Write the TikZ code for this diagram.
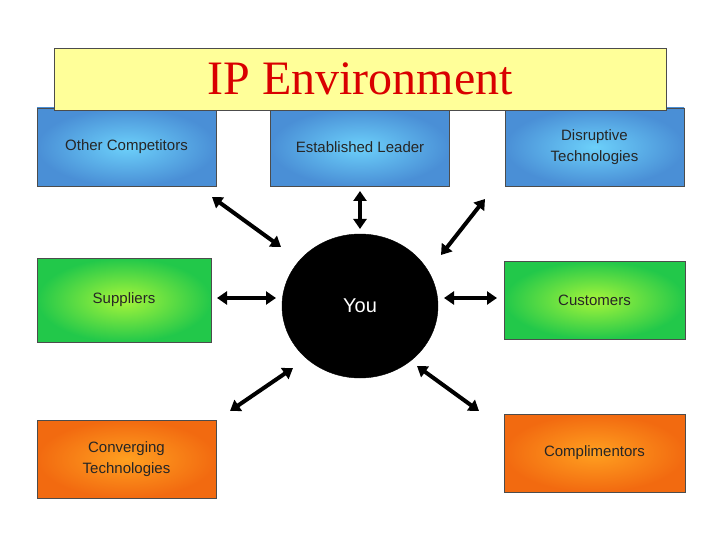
\documentclass[tikz,border=0pt]{standalone}
\usepackage{fontspec}
\setmainfont{Liberation Sans}
\newfontfamily\seriffont{Liberation Serif}
\usetikzlibrary{arrows.meta,shapes.geometric}
\definecolor{bout}{HTML}{4A8FD6}\definecolor{bin}{HTML}{6CD0FA}
\definecolor{gout}{HTML}{22C84A}\definecolor{gin}{HTML}{A6F53A}
\definecolor{oout}{HTML}{F26A10}\definecolor{oin}{HTML}{FFA020}
\definecolor{ttl}{HTML}{FFFF99}
\tikzset{
 box/.style={draw=black!70, line width=0.6pt, minimum width=#1, align=center, font=\fontsize{15}{21}\selectfont, text=black!85, inner sep=0pt},
 bluebox/.style={box=179pt, minimum height=78pt, inner color=bin, outer color=bout},
 greenbox/.style={box=176pt, inner color=gin, outer color=gout},
 orangebox/.style={box=179pt, minimum height=78pt, inner color=oin, outer color=oout},
 dbl/.style={{Triangle[width=13pt,length=10pt]}-{Triangle[width=13pt,length=10pt]}, line width=4pt}
}
\begin{document}
\begin{tikzpicture}[x=1pt,y=-1pt]
\useasboundingbox[fill=white] (0,0) rectangle (720,540);
\node[bluebox] (oc) at (126.5,147) {Other Competitors};
\node[bluebox] (el) at (360,147) {Established Leader};
\node[bluebox] (dt) at (594.5,147) {Disruptive\\Technologies};
\node[greenbox, minimum width=174pt, minimum height=84pt] (su) at (124,300) {Suppliers};
\node[greenbox, minimum width=181pt, minimum height=78pt] (cu) at (594.5,300) {Customers};
\node[orangebox] (ct) at (126.5,459) {Converging\\Technologies};
\node[orangebox, minimum width=181pt] (cm) at (594.5,453) {Complimentors};
\node[draw=black, fill=black, ellipse, minimum width=156pt, minimum height=144pt, text=white, font=\fontsize{20}{22}\selectfont, inner sep=0pt] (you) at (360,306) {You};
\node[draw=black!70, fill=ttl, minimum width=612pt, minimum height=62pt, text=red!85!black, font=\seriffont\fontsize{48}{50}\selectfont, inner sep=0pt] (title) at (360,79) {IP Environment};
\coordinate (a1) at (212,197); \coordinate (b1) at (281,247);
\coordinate (a2) at (360,191); \coordinate (b2) at (360,229);
\coordinate (a3) at (485,199); \coordinate (b3) at (441,255);
\coordinate (a4) at (217,298); \coordinate (b4) at (276,298);
\coordinate (a5) at (444,298); \coordinate (b5) at (497,298);
\coordinate (a6) at (293,368); \coordinate (b6) at (230,411);
\coordinate (a7) at (417,366); \coordinate (b7) at (479,411);
\foreach \i in {1,...,7} \draw[dbl] (a\i) -- (b\i);
\end{tikzpicture}
\end{document}
